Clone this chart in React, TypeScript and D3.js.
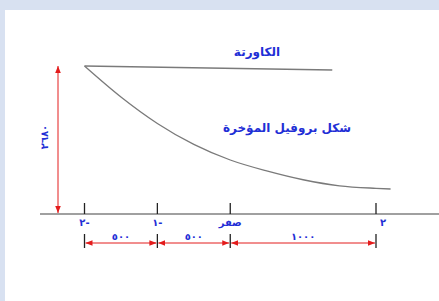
import React from "react";
import * as d3 from "d3";

const stations = [-2, -1.5, -1, -0.5, 0, 0.5, 1, 1.5, 2, 2.2];
const profileHeights = [2680, 2119, 1640, 1260, 978, 780, 620, 510, 465, 453];
const deckStations = [-2, 1.4];
const deckHeights = [2680, 2607];
const tickStations = [-2, -1, 0, 2];
const tickLabels = ["٢-", "١-", "صفر", "٢"];
const dimFrom = [-2, -1, 0];
const dimTo = [-1, 0, 2];
const dimLabels = ["٥٠٠", "٥٠٠", "١٠٠٠"];
const heightLabel = "٢٦٨٠";
const maxHeight = 2680;
const deckLabel = "الكاورتة";
const profileLabel = "شكل بروفيل المؤخرة";

const W = 439;
const H = 301;
const BLUE = "#1f2fd6";
const RED = "#e31c1c";
const GRAY = "#7a7a7a";
const FONT = "'DejaVu Sans', sans-serif";

export default function App() {
  const x = d3.scaleLinear().domain([-2, 2]).range([84.5, 376]);
  const y = d3.scaleLinear().domain([0, maxHeight]).range([214, 66]);
  const line = d3
    .line<[number, number]>()
    .x((d) => x(d[0]))
    .y((d) => y(d[1]))
    .curve(d3.curveMonotoneX);
  const profile = stations.map((s, i) => [s, profileHeights[i]] as [number, number]);
  const deck = deckStations.map((s, i) => [s, deckHeights[i]] as [number, number]);
  const dimY = 243;
  const arrowX = 58;

  return (
    <svg
      width={W}
      height={H}
      style={{ position: "absolute", left: 0, top: 0 }}
      xmlns="http://www.w3.org/2000/svg"
    >
      <defs>
        <marker id="ah" viewBox="0 0 10 10" refX="10" refY="5" markerWidth="7" markerHeight="7" orient="auto-start-reverse" markerUnits="userSpaceOnUse">
          <path d="M0,1 L10,5 L0,9 Z" fill={RED} />
        </marker>
      </defs>
      <rect x={0} y={0} width={W} height={H} fill="#d8e1f1" />
      <rect x={5} y={10} width={W - 5} height={H - 10} fill="#ffffff" />

      {/* baseline */}
      <line x1={40} x2={W} y1={y(0)} y2={y(0)} stroke="#a0a0a0" strokeWidth={2} />

      {/* deck line and profile */}
      <path d={line(deck) || ""} fill="none" stroke={GRAY} strokeWidth={1.4} />
      <path d={line(profile) || ""} fill="none" stroke={GRAY} strokeWidth={1.3} />

      {/* station ticks */}
      {tickStations.map((s, i) => (
        <g key={"t" + i}>
          <line x1={x(s)} x2={x(s)} y1={y(0) - 11} y2={y(0)} stroke="#222" strokeWidth={1.3} />
          <text
            x={x(s) + (s === 2 ? 7 : 0)}
            y={y(0) + 12}
            textAnchor="middle"
            fontFamily={FONT}
            fontWeight="bold"
            fontSize={10}
            fill={BLUE}
          >
            {tickLabels[i]}
          </text>
        </g>
      ))}

      {/* dimension ticks */}
      {tickStations.map((s, i) => (
        <line key={"d" + i} x1={x(s)} x2={x(s)} y1={dimY - 9} y2={dimY + 5} stroke="#222" strokeWidth={1.3} />
      ))}
      {dimFrom.map((s, i) => (
        <g key={"dl" + i}>
          <line
            x1={x(s) + 1}
            x2={x(dimTo[i]) - 1}
            y1={dimY}
            y2={dimY}
            stroke={RED}
            strokeWidth={1}
            markerStart="url(#ah)"
            markerEnd="url(#ah)"
          />
          <text
            x={(x(s) + x(dimTo[i])) / 2}
            y={dimY - 3}
            textAnchor="middle"
            fontFamily={FONT}
            fontWeight="bold"
            fontSize={10}
            fill={BLUE}
          >
            {dimLabels[i]}
          </text>
        </g>
      ))}

      {/* vertical height arrow */}
      <line
        x1={arrowX}
        x2={arrowX}
        y1={y(maxHeight)}
        y2={y(0) - 1}
        stroke={RED}
        strokeWidth={1}
        markerStart="url(#ah)"
        markerEnd="url(#ah)"
      />
      <text
        transform={`translate(${arrowX - 10},${(y(0) + y(maxHeight)) / 2 - 3}) rotate(-90)`}
        textAnchor="middle"
        fontFamily={FONT}
        fontWeight="bold"
        fontSize={10}
        fill={BLUE}
      >
        {heightLabel}
      </text>

      {/* labels */}
      <text x={257} y={56} textAnchor="middle" fontFamily={FONT} fontWeight="bold" fontSize={12} fill={BLUE}>
        {deckLabel}
      </text>
      <text x={287} y={132} textAnchor="middle" fontFamily={FONT} fontWeight="bold" fontSize={12} fill={BLUE}>
        {profileLabel}
      </text>
    </svg>
  );
}
